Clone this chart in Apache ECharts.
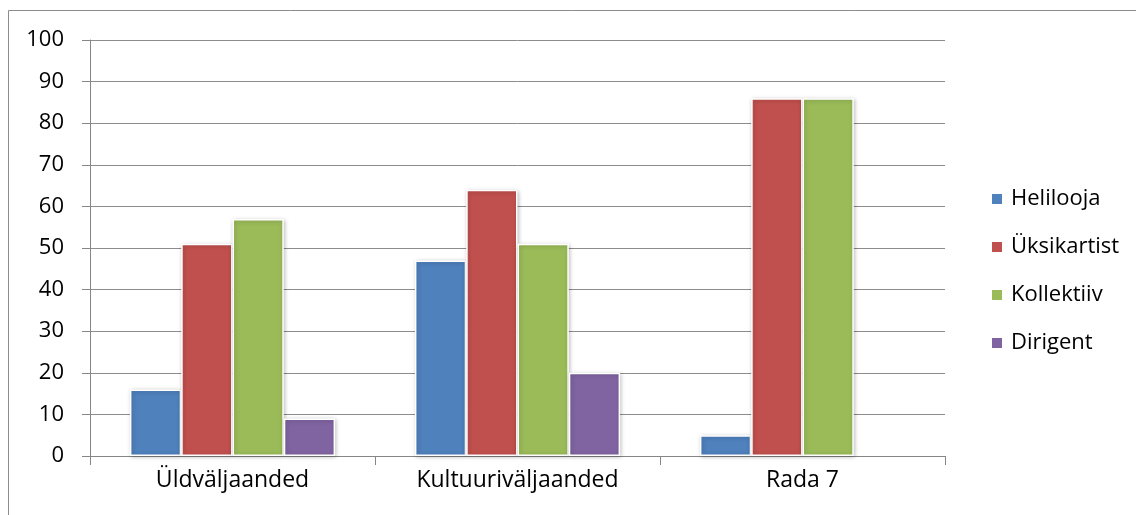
<!DOCTYPE html>
<html>
<head>
<meta charset="utf-8">
<script src="https://cdn.jsdelivr.net/npm/echarts@6/dist/echarts.min.js"></script>
<style>html,body{margin:0;padding:0;background:#fff;}#c{width:1136px;height:515px;}</style>
</head>
<body>
<div id="c"></div>
<script>
const categories = ['Üldväljaanded', 'Kultuuriväljaanded', 'Rada 7'];
const seriesNames = ['Helilooja', 'Üksikartist', 'Kollektiiv', 'Dirigent'];
const helilooja = [16, 47, 5];
const yksikartist = [51, 64, 86];
const kollektiiv = [57, 51, 86];
const dirigent = [9, 20, null];
const colors = ['#4F81BD', '#C0504D', '#9BBB59', '#8064A2'];
const yTicks = {min: 0, max: 100, interval: 10};

const values = [helilooja, yksikartist, kollektiiv, dirigent];
const chart = echarts.init(document.getElementById('c'));
const font = 'Open Sans';
chart.setOption({
  animation: false,
  color: colors,
  graphic: [{
    type: 'rect', shape: {x: 8.5, y: 10.5, width: 1200, height: 600},
    style: {fill: 'none', stroke: '#8c8c8c', lineWidth: 1}, silent: true, z: -1
  }],
  grid: {left: 90, right: 191, top: 40, bottom: 59, containLabel: false},
  legend: {
    orient: 'vertical', left: 985, top: 183,
    itemWidth: 12, itemHeight: 12, itemGap: 26,
    icon: 'rect',
    textStyle: {fontFamily: font, fontSize: 22, color: '#000', lineHeight: 22, padding: [0, 0, 0, 3]},
    data: seriesNames
  },
  xAxis: {
    type: 'category', data: categories,
    axisLine: {lineStyle: {color: '#868686', width: 1}},
    axisTick: {show: true, length: 9, lineStyle: {color: '#868686'}},
    axisLabel: {fontFamily: font, fontSize: 23, color: '#000', margin: 13}
  },
  yAxis: {
    type: 'value', min: yTicks.min, max: yTicks.max, interval: yTicks.interval,
    axisLine: {show: true, lineStyle: {color: '#868686', width: 1}},
    axisTick: {show: true, length: 8, lineStyle: {color: '#868686'}},
    splitLine: {lineStyle: {color: '#8c8c8c', width: 1}},
    axisLabel: {fontFamily: font, fontSize: 22, color: '#000', margin: 26}
  },
  series: seriesNames.map((n, i) => ({
    name: n, type: 'bar', data: values[i],
    barGap: '0%', barCategoryGap: '28%',
    itemStyle: {color: colors[i], borderColor: '#fff', borderWidth: 1.5,
      shadowColor: 'rgba(0,0,0,0.25)', shadowBlur: 4, shadowOffsetX: 1, shadowOffsetY: 1}
  }))
});
</script>
</body>
</html>
